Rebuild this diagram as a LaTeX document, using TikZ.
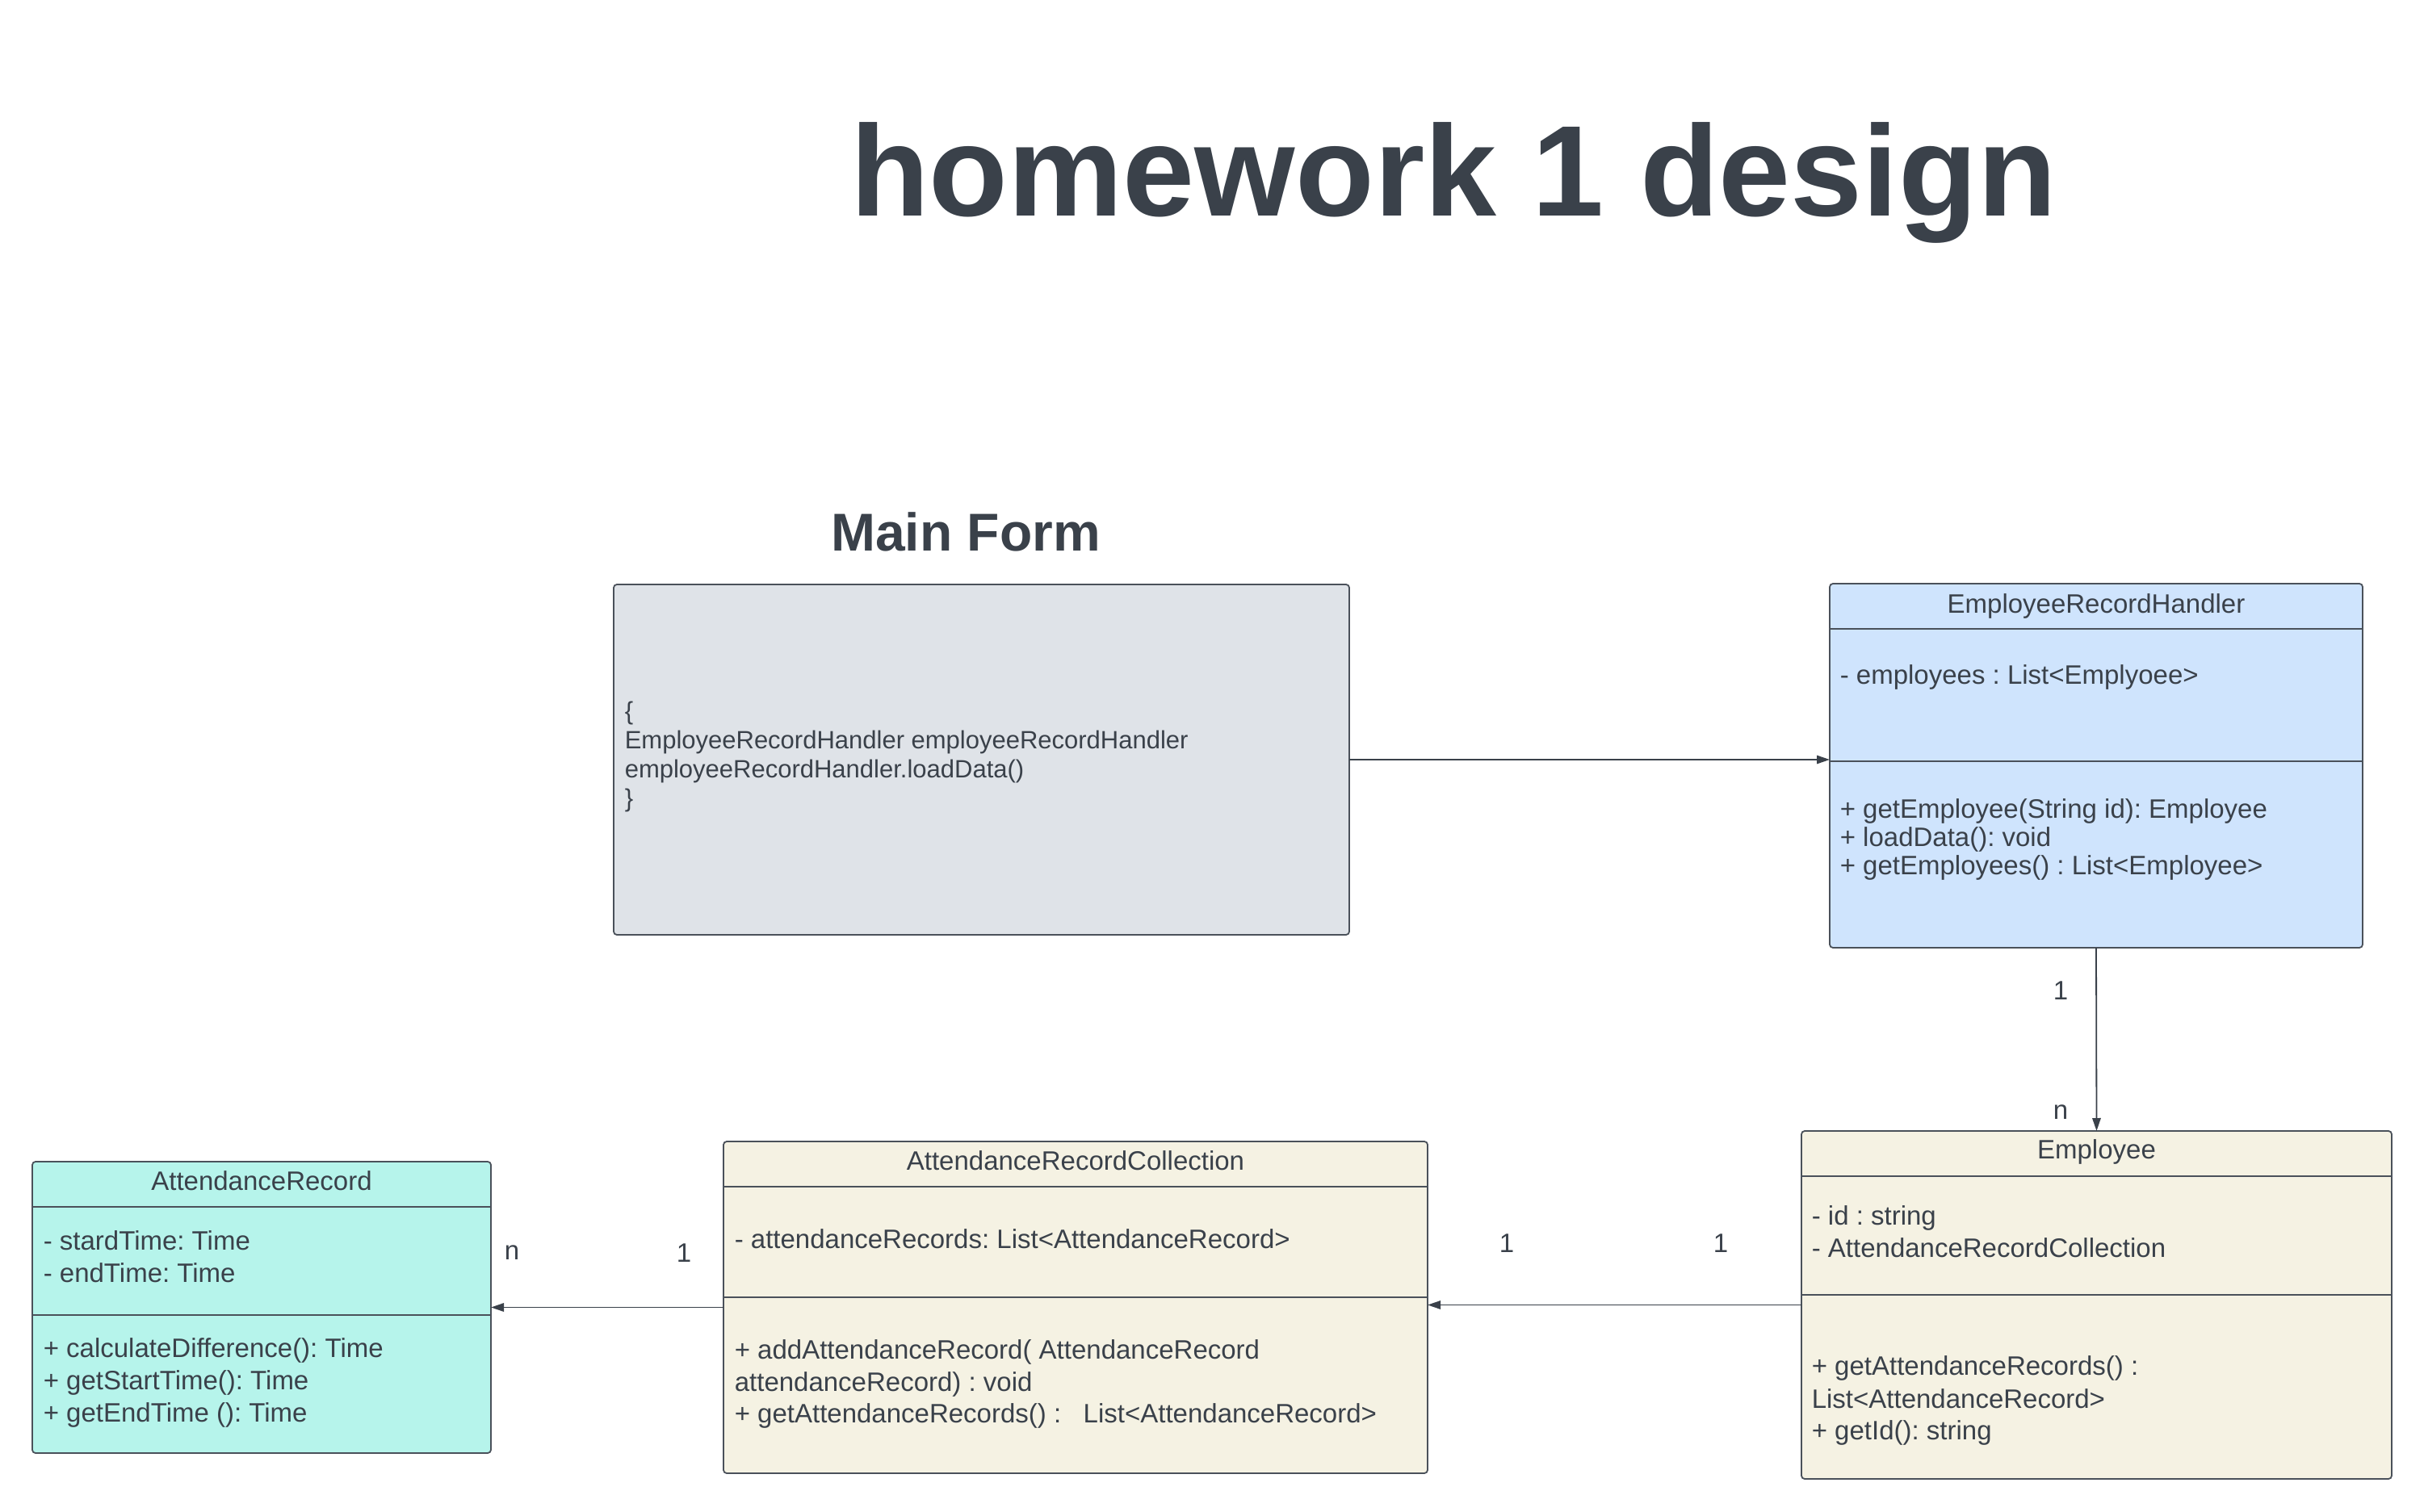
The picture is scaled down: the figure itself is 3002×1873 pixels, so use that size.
\documentclass[tikz,border=0pt]{standalone}
\usepackage{fontspec}
\setmainfont{Liberation Sans}
\frenchspacing
\usetikzlibrary{arrows.meta}
\definecolor{ink}{HTML}{3A414A}
\definecolor{edge}{HTML}{4A515A}
\definecolor{mfgray}{HTML}{DFE3E8}
\definecolor{erhblue}{HTML}{CFE4FD}
\definecolor{beige}{HTML}{F5F2E3}
\definecolor{aqua}{HTML}{B6F4EB}
\tikzset{
  classbox/.style={draw=edge, line width=0.45pt, rounded corners=1pt, inner sep=0pt, outer sep=0pt},
  divider/.style={draw=edge, line width=0.45pt},
  body/.style={font=\fontsize{8.25pt}{9.9pt}\selectfont, text=ink, inner sep=0pt, anchor=base west},
  head/.style={font=\fontsize{8.25pt}{9.9pt}\selectfont, text=ink, inner sep=0pt, anchor=base},
  mftext/.style={font=\fontsize{7.75pt}{9.3pt}\selectfont, text=ink, inner sep=0pt, anchor=base west},
  mult/.style={font=\fontsize{8.25pt}{9.9pt}\selectfont, text=ink, inner sep=0pt, anchor=base},
  conn/.style={draw=ink, line width=0.45pt, -{Triangle[length=4pt,width=2.6pt]}}
}
\begin{document}
\begin{tikzpicture}[x=0.25pt,y=-0.25pt]
\useasboundingbox (0,0) rectangle (3002,1873);

% titles
\node[font=\bfseries\fontsize{40pt}{48pt}\selectfont, text=ink, inner sep=0pt, anchor=base] (title) at (1800,268) {homework 1 design};
\node[font=\bfseries\fontsize{16.5pt}{20pt}\selectfont, text=ink, inner sep=0pt, anchor=base] (mftitle) at (1196,682) {Main Form};

% boxes
\node[classbox, fill=mfgray, minimum width=227.75pt, minimum height=108.5pt] (mf) at (1215.5,941) {};
\node[classbox, fill=erhblue, minimum width=165pt, minimum height=112.75pt] (erh) at (2596,948.5) {};
\node[classbox, fill=beige, minimum width=182.75pt, minimum height=107.75pt] (emp) at (2596.5,1616.5) {};
\node[classbox, fill=beige, minimum width=218pt, minimum height=102.75pt] (arc) at (1332,1619.5) {};
\node[classbox, fill=aqua, minimum width=142pt, minimum height=90.25pt] (ar) at (324,1619.5) {};

% dividers
\coordinate (erhd1) at (0,779);
\coordinate (erhd2) at (0,943);
\draw[divider] (erh.west |- erhd1) -- (erh.east |- erhd1);
\draw[divider] (erh.west |- erhd2) -- (erh.east |- erhd2);
\coordinate (empd1) at (0,1457);
\coordinate (empd2) at (0,1604);
\draw[divider] (emp.west |- empd1) -- (emp.east |- empd1);
\draw[divider] (emp.west |- empd2) -- (emp.east |- empd2);
\coordinate (arcd1) at (0,1470);
\coordinate (arcd2) at (0,1607);
\draw[divider] (arc.west |- arcd1) -- (arc.east |- arcd1);
\draw[divider] (arc.west |- arcd2) -- (arc.east |- arcd2);
\coordinate (ard1) at (0,1495);
\coordinate (ard2) at (0,1629);
\draw[divider] (ar.west |- ard1) -- (ar.east |- ard1);
\draw[divider] (ar.west |- ard2) -- (ar.east |- ard2);

% Main Form text
\node[mftext] (mf1) at (773,891) {\{};
\node[mftext] (mf2) at (773,927) {EmployeeRecordHandler employeeRecordHandler};
\node[mftext] (mf3) at (773,963) {employeeRecordHandler.loadData()};
\node[mftext] (mf4) at (773,999) {\}};

% EmployeeRecordHandler
\node[head] (erhh) at (2596,759) {EmployeeRecordHandler};
\node[body] (erha1) at (2278,847) {- employees : List<Emplyoee>};
\node[body] (erhm1) at (2278,1013) {+ getEmployee(String id): Employee};
\node[body] (erhm2) at (2278,1048) {+ loadData(): void};
\node[body] (erhm3) at (2278,1083) {+ getEmployees() : List<Employee>};

% Employee
\node[head] (emph) at (2596.5,1435) {Employee};
\node[body] (empa1) at (2243,1517) {- id : string};
\node[body] (empa2) at (2243,1557) {- AttendanceRecordCollection};
\node[body] (empm1) at (2243,1703) {+ getAttendanceRecords() :};
\node[body] (empm2) at (2243,1744) {List<AttendanceRecord>};
\node[body] (empm3) at (2243,1783) {+ getId(): string};

% AttendanceRecordCollection
\node[head] (arch) at (1332,1449) {AttendanceRecordCollection};
\node[body] (arca1) at (909,1546) {- attendanceRecords: List<AttendanceRecord>};
\node[body] (arcm1) at (909,1683) {+ addAttendanceRecord( AttendanceRecord};
\node[body] (arcm2) at (909,1723) {attendanceRecord) : void};
\node[body] (arcm3) at (909,1762) {+ getAttendanceRecords() :\ \ \ List<AttendanceRecord>};

% AttendanceRecord
\node[head] (arh) at (324,1474) {AttendanceRecord};
\node[body] (ara1) at (53,1548) {- stardTime: Time};
\node[body] (ara2) at (53,1588) {- endTime: Time};
\node[body] (arm1) at (53,1681) {+ calculateDifference(): Time};
\node[body] (arm2) at (53,1721) {+ getStartTime(): Time};
\node[body] (arm3) at (53,1761) {+ getEndTime (): Time};

% connectors
\draw[conn] (mf.east) -- (mf.east -| erh.west);
\draw[conn] (erh.south) -- (emp.north);
\draw[conn] (emp.west) -- (emp.west -| arc.east);
\draw[conn] (arc.west) -- (arc.west -| ar.east);

% multiplicities
\node[mult] (m1) at (2552,1238) {1};
\node[mult] (m2) at (2552,1386) {n};
\node[mult] (m3) at (1866,1551) {1};
\node[mult] (m4) at (2131,1551) {1};
\node[mult] (m5) at (634,1560) {n};
\node[mult] (m6) at (847,1563) {1};
\end{tikzpicture}
\end{document}
